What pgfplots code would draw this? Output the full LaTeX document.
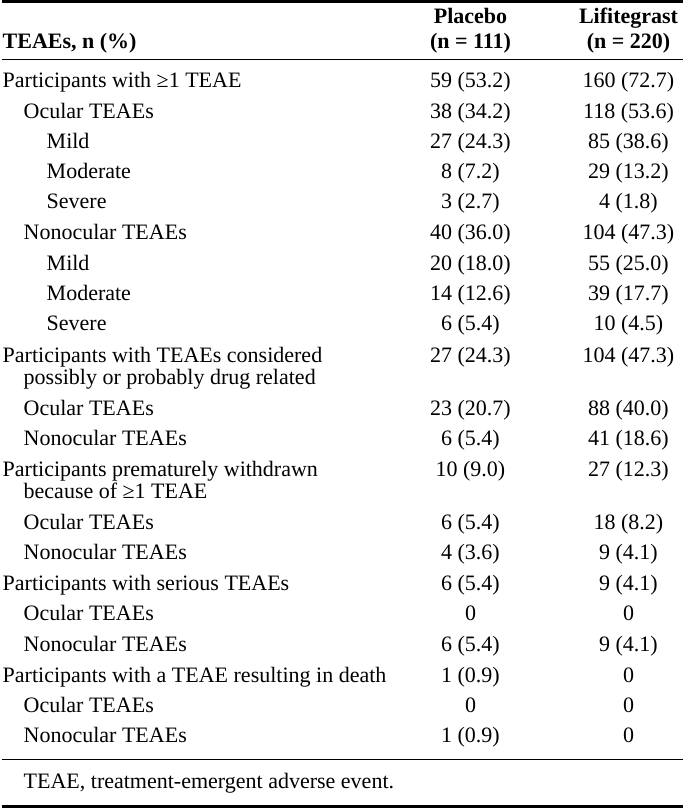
\documentclass[border=0pt]{standalone}
\usepackage{fontspec}
\setmainfont{Liberation Serif}
\usepackage{pgfplots}
\usepackage{pgfplotstable}
\pgfplotsset{compat=1.18}

% label rows: x (indent), y (pixel row centre), text
\pgfplotstableread[col sep=semicolon,row sep=\\]{
x;y;label\\
1;81;Participants with ≥1 TEAE\\
22;112;Ocular TEAEs\\
45;142;Mild\\
45;172;Moderate\\
45;202;Severe\\
22;233;Nonocular TEAEs\\
45;263;Mild\\
45;293;Moderate\\
45;323;Severe\\
1;355;Participants with TEAEs considered\\
22;377;possibly or probably drug related\\
22;408;Ocular TEAEs\\
22;438;Nonocular TEAEs\\
1;469;Participants prematurely withdrawn\\
22;491;because of ≥1 TEAE\\
22;522;Ocular TEAEs\\
22;552;Nonocular TEAEs\\
1;583;Participants with serious TEAEs\\
22;613;Ocular TEAEs\\
22;644;Nonocular TEAEs\\
1;675;Participants with a TEAE resulting in death\\
22;705;Ocular TEAEs\\
22;735;Nonocular TEAEs\\
22;781;TEAE, treatment-emergent adverse event.\\
}\labels

\pgfplotstableread[col sep=semicolon,row sep=\\]{
x;y;label\\
469;81;59 (53.2)\\
469;112;38 (34.2)\\
469;142;27 (24.3)\\
469;172;8 (7.2)\\
469;202;3 (2.7)\\
469;233;40 (36.0)\\
469;263;20 (18.0)\\
469;293;14 (12.6)\\
469;323;6 (5.4)\\
469;355;27 (24.3)\\
469;408;23 (20.7)\\
469;438;6 (5.4)\\
469;469;10 (9.0)\\
469;522;6 (5.4)\\
469;552;4 (3.6)\\
469;583;6 (5.4)\\
469;613;0\\
469;644;6 (5.4)\\
469;675;1 (0.9)\\
469;705;0\\
469;735;1 (0.9)\\
}\placebo

\pgfplotstableread[col sep=semicolon,row sep=\\]{
x;y;label\\
627;81;160 (72.7)\\
627;112;118 (53.6)\\
627;142;85 (38.6)\\
627;172;29 (13.2)\\
627;202;4 (1.8)\\
627;233;104 (47.3)\\
627;263;55 (25.0)\\
627;293;39 (17.7)\\
627;323;10 (4.5)\\
627;355;104 (47.3)\\
627;408;88 (40.0)\\
627;438;41 (18.6)\\
627;469;27 (12.3)\\
627;522;18 (8.2)\\
627;552;9 (4.1)\\
627;583;9 (4.1)\\
627;613;0\\
627;644;9 (4.1)\\
627;675;0\\
627;705;0\\
627;735;0\\
}\lifitegrast

\pgfplotstableread[col sep=semicolon,row sep=\\]{
x;y;label\\
469;17;Placebo\\
469;42;(n = 111)\\
627;17;Lifitegrast\\
627;42;(n = 220)\\
}\headers

\begin{document}
\begin{tikzpicture}
\begin{axis}[
  hide axis,
  scale only axis,
  width=681pt, height=810pt,
  xmin=0, xmax=681, ymin=0, ymax=810,
  y dir=reverse,
  clip=false,
  point meta=explicit symbolic,
  every node near coord/.append style={inner sep=0pt, yshift=-7pt, font=\fontsize{22}{26}\selectfont, text=black},
]
\path (rel axis cs:0,0) rectangle (rel axis cs:1,1);
% rules
\addplot[black, line width=2.5pt] coordinates {(0,1.5) (681,1.5)};
\addplot[black, line width=1pt] coordinates {(0,60) (681,60)};
\addplot[black, line width=1pt] coordinates {(0,759) (681,759)};
\addplot[black, line width=3pt] coordinates {(0,806) (681,806)};
% text columns
\addplot[only marks, mark=none, nodes near coords,
  every node near coord/.append style={anchor=base west}] table[x=x, y=y, meta=label] {\labels};
\addplot[only marks, mark=none, nodes near coords,
  every node near coord/.append style={anchor=base}] table[x=x, y=y, meta=label] {\placebo};
\addplot[only marks, mark=none, nodes near coords,
  every node near coord/.append style={anchor=base}] table[x=x, y=y, meta=label] {\lifitegrast};
\addplot[only marks, mark=none, nodes near coords,
  every node near coord/.append style={anchor=base, font=\fontsize{22}{26}\selectfont\bfseries}] table[x=x, y=y, meta=label] {\headers};
\addplot[only marks, mark=none, nodes near coords,
  every node near coord/.append style={anchor=base west, font=\fontsize{22}{26}\selectfont\bfseries}] coordinates {(1,42) [TEAEs, n (\%)]};
\end{axis}
\end{tikzpicture}
\end{document}
